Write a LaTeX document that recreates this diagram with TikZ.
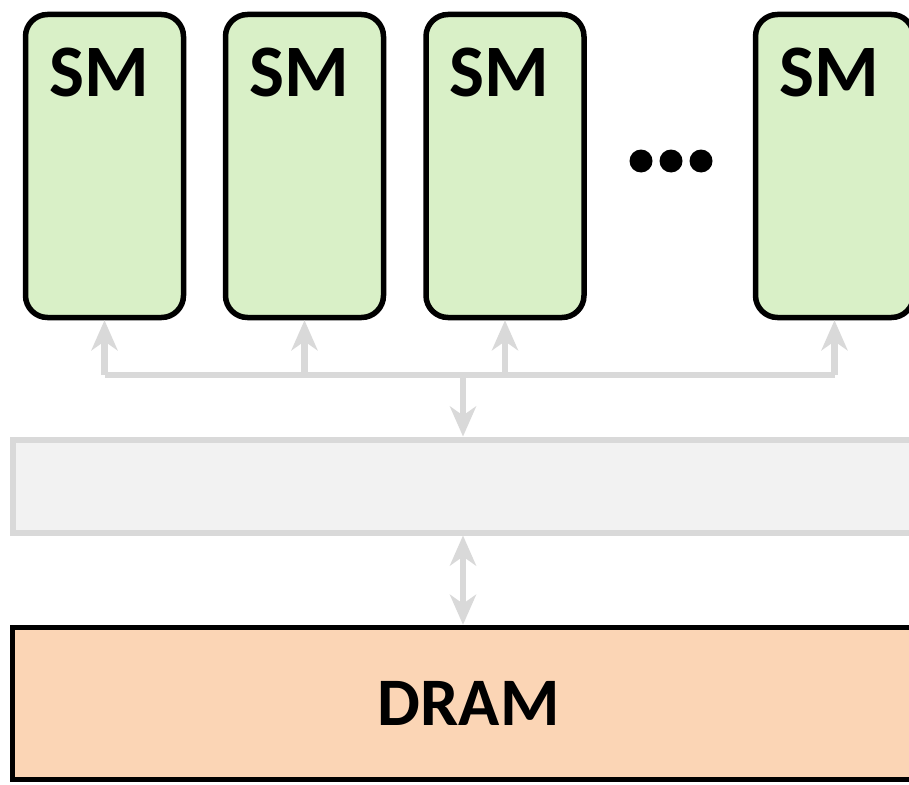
\documentclass[tikz,border=0pt]{standalone}
\usepackage{fontspec}
\setmainfont{Carlito}
\usetikzlibrary{arrows.meta}
\definecolor{smfill}{HTML}{D9F0C7}
\definecolor{dramfill}{HTML}{FBD5B5}
\definecolor{linkgray}{HTML}{D9D9D9}
\definecolor{memfill}{HTML}{F2F2F2}
\tikzset{
  smbox/.style={draw=black, line width=5.5pt, fill=smfill, rounded corners=22pt,
    minimum width=158pt, minimum height=303pt, inner sep=0pt},
  smtext/.style={anchor=north west, inner sep=0pt, font=\bfseries\fontsize{74}{74}\selectfont},
  memband/.style={draw=linkgray, line width=6pt, fill=memfill,
    minimum width=912.5pt, minimum height=93pt, inner sep=0pt},
  drambox/.style={draw=black, line width=5.5pt, fill=dramfill,
    minimum width=912.5pt, minimum height=152pt, inner sep=0pt},
  link/.style={draw=linkgray, line width=6.5pt},
  tipshape/.style={},
  linkarrow/.style={link, -{Stealth[length=30pt,width=26pt,inset=9pt]}},
  linkboth/.style={link, {Stealth[length=30pt,width=26pt,inset=9pt]}-{Stealth[length=30pt,width=26pt,inset=9pt]}},
  dot/.style={circle, fill=black, minimum size=23pt, inner sep=0pt}
}
\begin{document}
\begin{tikzpicture}[x=1pt,y=-1pt]
\clip (0,0) rectangle (909,784);
\fill[white] (0,0) rectangle (909,784);
% SM boxes
\node[smbox] (sm1) at (104.5,166) {};
\node[smbox] (sm2) at (304.5,166) {};
\node[smbox] (sm3) at (505,166) {};
\node[smbox] (sm4) at (834.5,166) {};
\node[smtext] (t1) at (49,48) {SM};
\node[smtext] (t2) at (249,48) {SM};
\node[smtext] (t3) at (449,48) {SM};
\node[smtext] (t4) at (779,48) {SM};
% dots
\node[dot] (d1) at (641,161) {};
\node[dot] (d2) at (671,161) {};
\node[dot] (d3) at (701,161) {};
% memory band and DRAM
\node[memband] (mem) at (468.75,486) {};
\node[drambox, font=\bfseries\fontsize{68}{68}\selectfont] (dram) at (468.75,703.5) {DRAM};
% bus
\coordinate (busy) at (0,375);
\coordinate (bc) at (463,375);
\draw[link] (sm1.south |- busy) -- (sm4.south |- busy);
\foreach \s in {sm1,sm2,sm3,sm4}{
  \draw[linkarrow] (\s.south |- busy) -- (\s.south);
}
\draw[linkarrow] (bc) -- (bc |- mem.north);
\draw[linkboth] (bc |- mem.south) -- (bc |- dram.north);
\end{tikzpicture}
\end{document}
